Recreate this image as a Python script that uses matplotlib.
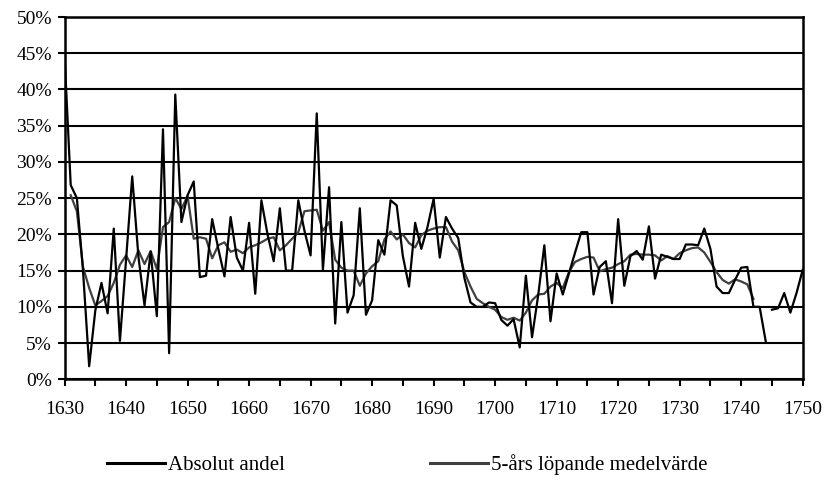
import matplotlib
matplotlib.use("Agg")
import matplotlib.pyplot as plt
from matplotlib.lines import Line2D
import numpy as np

plt.rcParams['font.family'] = ['Liberation Serif', 'DejaVu Serif']

years = list(range(1630, 1751))

absolut_andel = [
    44.7, 26.8, 25.0, 15.0, 1.8, 9.5, 13.3, 9.1, 20.8, 5.3,      # 1630-1639
    16.5, 28.0, 17.0, 10.2, 17.6, 8.7, 34.5, 3.6, 39.3, 21.7,    # 1640-1649
    25.4, 27.3, 14.1, 14.3, 22.1, 18.0, 14.2, 22.4, 16.8, 15.0,  # 1650-1659
    21.6, 11.8, 24.7, 20.0, 16.3, 23.6, 15.0, 15.0, 24.7, 20.5,  # 1660-1669
    17.1, 36.7, 15.1, 26.5, 7.7, 21.7, 9.2, 11.6, 23.6, 8.9,     # 1670-1679
    10.9, 19.2, 17.2, 24.7, 24.0, 17.0, 12.8, 21.6, 18.0, 21.0,  # 1680-1689
    24.9, 16.8, 22.4, 20.8, 19.5, 14.0, 10.6, 10.0, 10.0, 10.6,  # 1690-1699
    10.5, 8.2, 7.4, 8.3, 4.4, 14.3, 5.8, 11.6, 18.5, 8.0,        # 1700-1709
    14.6, 11.7, 14.6, 17.5, 20.3, 20.3, 11.7, 15.5, 16.3, 10.5,  # 1710-1719
    22.1, 12.9, 17.0, 17.7, 16.5, 21.1, 13.9, 17.2, 16.9, 16.6,  # 1720-1729
    16.6, 18.6, 18.6, 18.5, 20.8, 18.0, 12.8, 11.9, 11.9, 13.7,  # 1730-1739
    15.4, 15.5, 10.0, 10.0, 5.2, 9.6, 9.8, 11.9, 9.2, 11.9,      # 1740-1749
    15.1,                                                         # 1750
]

ma_years = list(range(1631, 1743))
medelvarde = [
    25.4, 23.2, 15.5, 12.6, 10.2, 10.8, 11.5, 13.3, 15.8,        # 1631-1639
    17.1, 15.5, 17.8, 15.9, 17.7, 15.2, 21.0, 21.7, 25.0, 23.5,  # 1640-1649
    25.3, 19.4, 19.6, 19.4, 16.7, 18.5, 18.9, 17.6, 17.9, 17.4,  # 1650-1659
    18.2, 18.5, 18.9, 19.4, 19.6, 17.8, 18.5, 19.4, 20.3, 23.2,  # 1660-1669
    23.3, 23.4, 20.5, 21.7, 16.5, 15.4, 15.0, 15.0, 12.9, 14.6,  # 1670-1679
    15.6, 16.3, 19.3, 20.4, 19.3, 20.0, 18.8, 18.2, 19.9, 20.5,  # 1680-1689
    20.8, 21.0, 21.0, 19.0, 17.8, 14.8, 12.8, 11.1, 10.5, 10.0,  # 1690-1699
    9.6, 8.6, 8.2, 8.5, 8.1, 9.2, 10.9, 11.7, 11.8, 12.8,        # 1700-1709
    13.3, 12.6, 14.8, 16.2, 16.6, 16.9, 16.8, 14.9, 15.2, 15.4,  # 1710-1719
    15.9, 16.3, 17.2, 17.3, 17.2, 17.2, 17.1, 16.4, 17.0, 16.6,  # 1720-1729
    17.4, 17.8, 18.1, 18.2, 17.5, 16.2, 14.8, 13.7, 13.2, 13.8,  # 1730-1739
    13.5, 13.1, 11.1,                                            # 1740-1742
]

legend_labels = ["Absolut andel", "5-års löpande medelvärde"]
y_ticks = list(range(0, 51, 5))
x_ticks = list(range(1630, 1751, 5))
split_year = 1745  # the black line is drawn in two pieces

BLACK_C = 'black'
GRAY_C = '#404040'

fig = plt.figure(figsize=(8.33, 4.86), dpi=100)
ax = fig.add_axes([0.0775, 0.2196, 0.8861, 0.7454])

ax.set_xlim(1630, 1750)
ax.set_ylim(0, 50)

for y in y_ticks:
    ax.axhline(y, color='black', lw=1.5, zorder=1)

yrs = np.array(years)
vals = np.array(absolut_andel)
m1 = yrs < split_year
ax.plot(yrs[m1], vals[m1], color=BLACK_C, lw=1.6, zorder=3)
ax.plot(yrs[~m1], vals[~m1], color=BLACK_C, lw=1.6, zorder=3)
ax.plot(ma_years, medelvarde, color=GRAY_C, lw=1.6, zorder=2)

ax.set_yticks(y_ticks)
ax.set_yticklabels([f"{v}%" for v in y_ticks])
ax.set_xticks(x_ticks)
ax.set_xticklabels([str(x) if x % 10 == 0 else '' for x in x_ticks])

ax.tick_params(axis='both', direction='out', length=5, width=1.5,
               color='black', labelsize=14)
ax.tick_params(axis='x', pad=11)
ax.tick_params(axis='y', pad=4)

for s in ax.spines.values():
    s.set_linewidth(1.8)
    s.set_color('black')

h1 = Line2D([], [], color=BLACK_C, lw=2.2)
h2 = Line2D([], [], color=GRAY_C, lw=2.2)
leg_y = 1 - 465 / 486
common = dict(loc='center left', frameon=False, fontsize=15,
              handlelength=2.8, handletextpad=0.12, borderpad=0,
              borderaxespad=0)
fig.legend([h1], [legend_labels[0]], bbox_to_anchor=(107 / 833, leg_y), **common)
fig.legend([h2], [legend_labels[1]], bbox_to_anchor=(430 / 833, leg_y), **common)

fig.savefig("out.png", dpi=100)
